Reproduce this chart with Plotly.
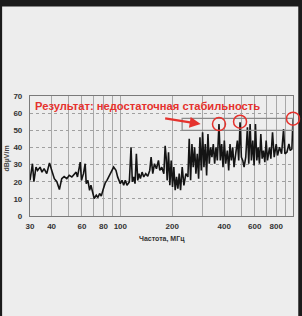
import plotly.graph_objects as go
import math

# Frequency (MHz) and field strength (dBµV/m)
freq_mhz = [
    30, 31.0, 31.6, 32.5, 33.2, 34.3, 35.2, 36.2, 37.5, 38.9, 40.1, 41.5, 42.9, 44.4, 45.8,
    47.3, 49.0, 50.6, 52.4, 54.1, 55.5, 56.5, 58.6, 59.6, 61.2, 62.6, 63.5, 64.9, 66.4, 67.6,
    69.4, 70.6, 72.6, 74.2, 75.9, 77.6, 79.3, 81.8, 83.7, 85.6, 88.7, 91.5, 94.4, 96.5, 100.0,
    102.3, 104.6, 106.9, 109.3, 112.8, 115.4, 117.4, 119.6, 121.7, 123.9, 126.2, 128.4, 130.7,
    133.7, 136.7, 140.4, 144.2, 148.1, 150.8, 154.2, 157.7, 161.9, 166.3, 169.3, 173.9, 178.7,
    181.9, 184.3, 186.8, 190.2, 193.6, 197.1, 200.6, 204.2, 207.9, 211.7, 215.5, 219.3, 223.3,
    228.3, 233.5, 239.8, 246.3, 250.7, 255.3, 259.9, 264.5, 269.3, 274.1, 279.1, 284.1, 289.2,
    294.4, 299.6, 305.0, 310.5, 316.1, 321.8, 327.5, 333.4, 339.4, 345.5, 351.8, 358.1, 364.6,
    372.8, 379.5, 386.3, 393.3, 400.3, 407.6, 416.8, 424.3, 431.9, 439.7, 447.6, 455.7, 465.9,
    476.4, 485.0, 493.7, 502.6, 511.7, 520.9, 532.6, 544.6, 554.5, 564.4, 574.6, 584.9, 595.5,
    606.2, 617.1, 628.2, 639.5, 651.1, 662.8, 674.7, 686.9, 699.2, 711.8, 731.1, 744.3, 761.1,
    778.2, 799.3, 813.7, 835.8, 858.5, 881.8, 897.7, 922.0, 947.1, 964.1, 985.0, 1000.0,
]
level_db = [
    20.8, 30.5, 20.0, 28.5, 26.6, 28.5, 25.6, 27.6, 24.7, 31.0, 26.6, 21.8, 20.0, 15.4, 21.8,
    23.0, 21.8, 23.7, 22.8, 24.7, 25.6, 22.8, 31.4, 20.8, 24.7, 30.5, 18.9, 20.8, 15.0, 17.9,
    14.0, 10.2, 12.1, 10.8, 13.1, 11.6, 15.0, 19.3, 20.8, 22.8, 26.6, 28.5, 26.6, 22.8, 18.9,
    20.8, 17.9, 20.8, 17.9, 19.9, 40.1, 19.9, 22.8, 18.9, 36.3, 20.8, 24.7, 21.8,
    25.6, 22.8, 24.7, 23.2, 26.6, 34.3, 24.7, 30.5, 27.6, 32.4, 26.6, 28.5, 24.7,
    41.0, 34.3, 20.8, 37.2, 17.9, 32.4, 17.0, 28.5, 15.0, 22.8, 16.0, 24.7, 15.0,
    28.5, 17.9, 24.7, 22.8, 45.0, 20.8, 42.0, 28.5, 40.1, 24.7, 36.3, 21.8, 45.9,
    26.6, 48.8, 28.5, 42.0, 23.7, 47.8, 30.5, 40.1, 34.3, 42.0, 30.5, 40.1, 32.4,
    53.6, 32.4, 42.0, 28.5, 44.0, 30.5, 38.2, 26.6, 42.0, 32.4, 40.1, 28.5, 36.3,
    44.0, 32.4, 54.6, 34.3, 32.4, 28.5, 34.3, 51.7, 30.5, 53.6, 32.4, 44.0, 29.5,
    53.6, 32.4, 40.1, 30.5, 47.8, 33.4, 38.2, 31.4, 44.0, 32.4, 40.1, 33.4, 48.8,
    34.3, 42.0, 35.3, 40.1, 36.3, 50.7, 36.3, 37.2, 42.0, 38.2, 39.1, 56.5,
]

x_ticks = [30, 40, 60, 80, 100, 200, 400, 600, 800]
x_minor = [50, 70, 90, 300, 500, 700, 900]
y_ticks = [0, 10, 20, 30, 40, 50, 60, 70]

peak_freqs = [372.8, 493.7, 1000.0]
peak_levels = [53.6, 55.0, 56.8]

box_freq = [228, 1000]
box_level = [50, 57]

note_text = "Результат: недостаточная стабильность"
x_title = "Частота, МГц"
y_title = "dBµV/m"

RED = "#e5322d"

X_MIN, X_MAX = 30, 1000
Y_MIN, Y_MAX = 0, 70
W, H = 302, 316
M = dict(l=30, r=9, t=96, b=100)
plot_w = W - M["l"] - M["r"]
plot_h = H - M["t"] - M["b"]


def x_to_paper(f):
    return (math.log10(f) - math.log10(X_MIN)) / (math.log10(X_MAX) - math.log10(X_MIN))


def y_to_paper(v):
    return (v - Y_MIN) / (Y_MAX - Y_MIN)


fig = go.Figure()
fig.add_trace(go.Scatter(
    x=freq_mhz, y=level_db, mode="lines",
    line=dict(color="#141414", width=1.6),
    hoverinfo="skip", showlegend=False,
))

shapes = []
# photographed sheet background
shapes.append(dict(type="rect", xref="paper", yref="paper",
                   x0=-0.106, x1=1.02, y0=-0.95, y1=1.745,
                   fillcolor="#ededed", line=dict(width=0), layer="below"))
# grey box around the limit region
shapes.append(dict(type="rect", xref="x", yref="y",
                   x0=box_freq[0], x1=box_freq[1], y0=box_level[0], y1=box_level[1],
                   line=dict(color="#8a8a8a", width=1.2), layer="above"))
r = 6.5
for f, v in zip(peak_freqs, peak_levels):
    cx, cy = x_to_paper(f), y_to_paper(v)
    shapes.append(dict(type="circle", xref="paper", yref="paper",
                       x0=cx - r / plot_w, x1=cx + r / plot_w,
                       y0=cy - r / plot_h, y1=cy + r / plot_h,
                       line=dict(color=RED, width=1.5)))

annotations = [
    dict(text=note_text, xref="paper", yref="paper", x=0.012, y=0.985,
         xanchor="left", yanchor="top", showarrow=False,
         font=dict(family="Liberation Sans, Arial", size=11.2, color=RED, weight="bold")),
    dict(text="", xref="x", yref="y", x=math.log10(292), y=53.6,
         ax=-37, ay=-6, showarrow=True, arrowhead=2, arrowsize=1, arrowwidth=2.2,
         arrowcolor=RED),
    dict(text=x_title, xref="paper", yref="paper", x=0.5, y=-0.19,
         xanchor="center", yanchor="middle", showarrow=False,
         font=dict(family="Liberation Sans, Arial", size=7, color="#333", weight="bold")),
    dict(text=y_title, xref="paper", yref="paper", x=-0.087, y=0.48,
         xanchor="center", yanchor="middle", showarrow=False, textangle=-90,
         font=dict(family="Liberation Sans, Arial", size=7, color="#444", weight="bold")),
]

fig.update_layout(
    width=W, height=H,
    margin=M,
    paper_bgcolor="#1b1b1b",
    plot_bgcolor="#f6f6f6",
    shapes=shapes,
    annotations=annotations,
    xaxis=dict(type="log", range=[math.log10(X_MIN), math.log10(X_MAX)],
               tickvals=x_ticks, ticktext=[str(t) for t in x_ticks],
               showgrid=True, gridcolor="#a8a8a8", gridwidth=1,
               minor=dict(tickvals=x_minor, showgrid=True, gridcolor="#a8a8a8", gridwidth=1),
               showline=True, mirror=True, linecolor="#7a7a7a", linewidth=1.2,
               ticks="", ticklabelstandoff=2,
               tickfont=dict(family="Liberation Sans, Arial", size=8, color="#333", weight="bold"),
               zeroline=False),
    yaxis=dict(range=[Y_MIN, Y_MAX], tickvals=y_ticks,
               showgrid=True, gridcolor="#a0a0a0", griddash="dot", gridwidth=1,
               showline=True, mirror=True, linecolor="#7a7a7a", linewidth=1.2,
               ticks="", ticklabelstandoff=5,
               tickfont=dict(family="Liberation Sans, Arial", size=8, color="#333", weight="bold"),
               zeroline=False),
)

fig.write_html("out.html", config={"displayModeBar": False},
               post_script="document.body.style.margin='0';document.body.style.overflow='hidden';")
